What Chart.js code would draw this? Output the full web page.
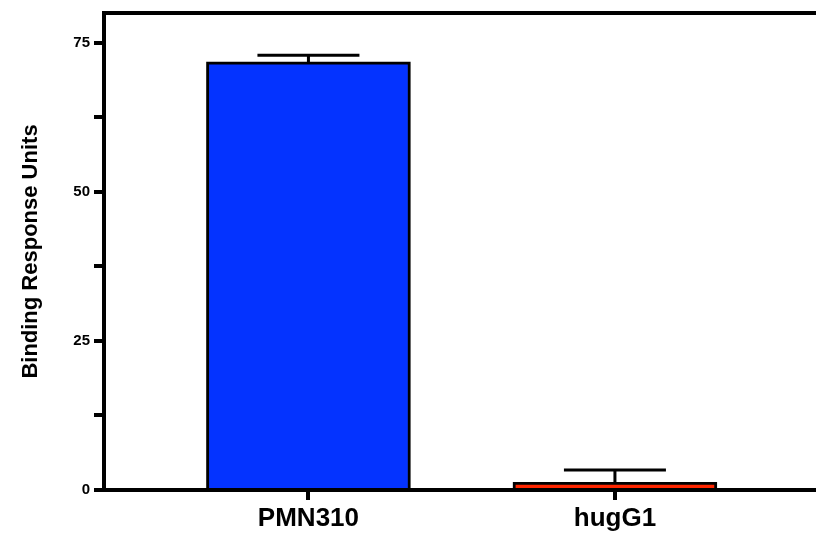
<!DOCTYPE html>
<html>
<head>
<meta charset="utf-8">
<script src="https://cdn.jsdelivr.net/npm/chart.js@4/dist/chart.umd.min.js"></script>
<style>
  html, body { margin: 0; padding: 0; background: #ffffff; overflow: hidden; }
  #wrap { width: 816px; height: 533px; }
</style>
</head>
<body>
<div id="wrap"><canvas id="c" width="816" height="533"></canvas></div>
<script>
// ---- data ----
const categories = ['PMN310', 'hugG1'];
const categoryPositions = [1, 2];
const values = [71.8, 1.3];
const errorsUp = [1.1, 2.05];
const barColors = ['#0433FF', '#FF2600'];
const yMajorTicks = [0, 25, 50, 75];
const yMinorTicks = [12.5, 37.5, 62.5];
const yTitle = 'Binding Response Units';

const FONT = "'Liberation Sans', Arial, Helvetica, sans-serif";

const errorBarPlugin = {
  id: 'errorBars',
  afterDatasetsDraw(chart) {
    const meta = chart.getDatasetMeta(0);
    const yScale = chart.scales.y;
    const ctx = chart.ctx;
    ctx.save();
    ctx.strokeStyle = '#000000';
    ctx.lineWidth = 3;
    ctx.lineCap = 'butt';
    meta.data.forEach((bar, i) => {
      const top = yScale.getPixelForValue(values[i] + errorsUp[i]);
      const half = bar.width / 4;
      ctx.beginPath();
      ctx.moveTo(bar.x, bar.y);
      ctx.lineTo(bar.x, top);
      ctx.moveTo(bar.x - half, top);
      ctx.lineTo(bar.x + half, top);
      ctx.stroke();
    });
    ctx.restore();
  }
};

new Chart(document.getElementById('c'), {
  type: 'bar',
  data: {
    datasets: [{
      data: categories.map((c, i) => ({ x: categoryPositions[i], y: values[i] })),
      backgroundColor: barColors,
      borderColor: '#000000',
      borderWidth: 3,
      barThickness: 204
    }]
  },
  options: {
    responsive: false,
    animation: false,
    events: [],
    layout: { padding: 0 },
    plugins: {
      legend: { display: false },
      tooltip: { enabled: false }
    },
    scales: {
      x: {
        type: 'linear',
        position: 'bottom',
        min: 0.333,
        max: 2.656,
        offset: false,
        z: 1,
        afterBuildTicks: (s) => { s.ticks = categoryPositions.map(v => ({ value: v })); },
        afterFit: (s) => { s.height = 43; },
        ticks: {
          autoSkip: false,
          maxRotation: 0,
          padding: 3,
          color: '#000000',
          font: { family: FONT, size: 26, weight: 'bold' },
          callback: (v, i) => categories[i]
        },
        grid: { display: true, offset: false, drawOnChartArea: false, drawTicks: true, tickLength: 10, lineWidth: 4, color: '#000000' },
        border: { display: true, width: 4, color: '#000000' }
      },
      x2: {
        type: 'linear',
        position: 'top',
        min: 0.333,
        max: 2.656,
        offset: false,
        afterFit: (s) => { s.height = 12; },
        ticks: { display: false },
        grid: { display: true, offset: false, drawOnChartArea: false, drawTicks: false, color: '#000000' },
        border: { display: true, width: 4, color: '#000000' }
      },
      y: {
        type: 'linear',
        position: 'left',
        min: 0,
        max: 80,
        afterBuildTicks: (s) => {
          s.ticks = yMajorTicks.concat(yMinorTicks).sort((a, b) => a - b).map(v => ({ value: v }));
        },
        afterFit: (s) => { s.width = 104; },
        ticks: {
          autoSkip: false,
          padding: 4,
          color: '#000000',
          font: { family: FONT, size: 15, weight: 'bold' },
          callback: (v) => (yMajorTicks.includes(v) ? String(v) : '')
        },
        grid: { display: true, drawOnChartArea: false, drawTicks: true, tickLength: 10, lineWidth: 4, color: '#000000' },
        border: { display: true, width: 4, color: '#000000' },
        title: {
          display: true,
          text: yTitle,
          color: '#000000',
          font: { family: FONT, size: 22, weight: 'bold' },
          padding: { top: 17.5, bottom: 0 }
        }
      }
    }
  },
  plugins: [errorBarPlugin]
});
</script>
</body>
</html>
